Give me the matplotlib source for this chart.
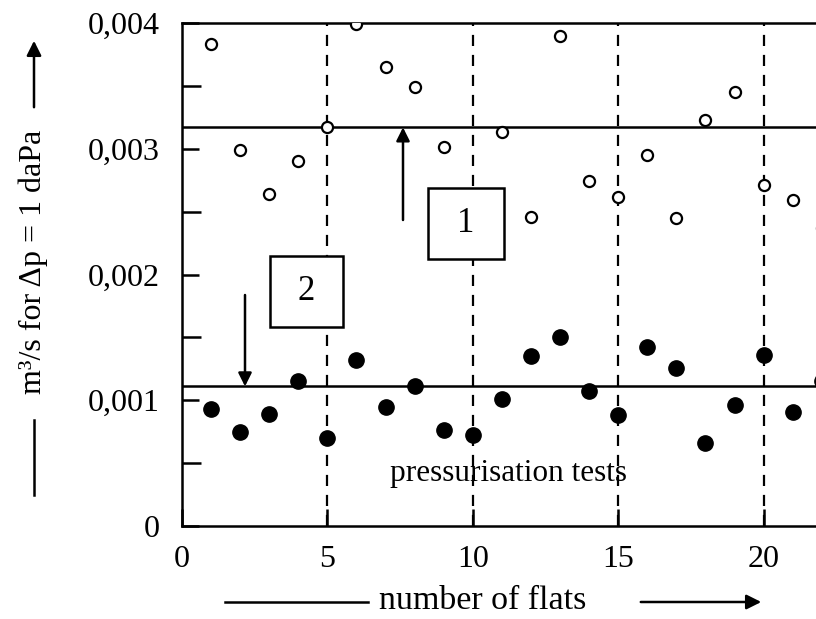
import matplotlib
matplotlib.use("Agg")
import matplotlib.pyplot as plt
from matplotlib.patches import Rectangle, FancyArrowPatch
from matplotlib.lines import Line2D

plt.rcParams['font.family'] = ['Liberation Serif', 'DejaVu Serif']

# Data
flats = list(range(1, 23))
open_vals = [0.00383, 0.00299, 0.00264, 0.00290, 0.00317, 0.00399, 0.00365, 0.00349,
             0.00301, None, 0.00313, 0.00246, 0.00390, 0.00274, 0.00262, 0.00295,
             0.00245, 0.00323, 0.00345, 0.00271, 0.00259, 0.00237]
filled_vals = [0.00093, 0.00075, 0.00089, 0.00115, 0.00070, 0.00132, 0.00095, 0.00111,
               0.00076, 0.00072, 0.00101, 0.00135, 0.00150, 0.00107, 0.00088, 0.00142,
               0.00126, 0.00066, 0.00096, 0.00136, 0.00091, 0.00115]
level_1 = 0.00317
level_2 = 0.00111
vlines_x = [5, 10, 15, 20]
xticks = [0, 5, 10, 15, 20]
yticks = [0, 0.001, 0.002, 0.003, 0.004]
ytick_labels = ["0", "0,001", "0,002", "0,003", "0,004"]
yminor = [0.0005, 0.0015, 0.0025, 0.0035]

W, H = 816, 619
fig = plt.figure(figsize=(W / 100, H / 100), dpi=100)
ax = fig.add_axes([182 / W, (H - 526) / H, (W - 182) / W + 0.01, (526 - 23) / H])
ax.set_xlim(0, 21.8 * (1 + 0.01 * W / (W - 182)))
ax.set_ylim(0, 0.004)

ax.spines['right'].set_visible(False)
for s in ['left', 'bottom', 'top']:
    ax.spines[s].set_linewidth(1.8)

for xv in vlines_x:
    ax.axvline(xv, color='black', ls=(0, (5, 4)), lw=1.6, zorder=1)
ax.axhline(level_1, color='black', lw=1.8, zorder=2)
ax.axhline(level_2, color='black', lw=1.8, zorder=2)

ox = [f for f, v in zip(flats, open_vals) if v is not None]
oy = [v for v in open_vals if v is not None]
ax.plot(ox, oy, ls='none', marker='o', ms=8, mfc='white', mec='black', mew=1.6, zorder=4)
ax.plot(flats, filled_vals, ls='none', marker='o', ms=11, mfc='black', mec='black', zorder=4)

ax.set_xticks(xticks)
ax.set_xticklabels([str(t) for t in xticks], fontsize=23)
ax.set_yticks(yticks)
ax.set_yticklabels(ytick_labels, fontsize=23)
ax.set_yticks(yminor, minor=True)
ax.tick_params(axis='both', which='both', direction='in', width=1.8, top=False, right=False)
ax.tick_params(axis='y', which='major', length=12, pad=16)
ax.tick_params(axis='y', which='minor', length=14)
ax.tick_params(axis='x', which='major', length=12, pad=14)

tr = ax.transData.inverted()
def px2data(x, y):
    return tr.transform((x, H - y))

b1a = px2data(428, 259); b1b = px2data(504, 188)
ax.add_patch(Rectangle(b1a, b1b[0] - b1a[0], b1b[1] - b1a[1], fc='white', ec='black', lw=1.8, zorder=5))
ax.text((b1a[0] + b1b[0]) / 2, (b1a[1] + b1b[1]) / 2, "1", ha='center', va='center', fontsize=25, zorder=6)
b2a = px2data(270, 327); b2b = px2data(343, 256)
ax.add_patch(Rectangle(b2a, b2b[0] - b2a[0], b2b[1] - b2a[1], fc='white', ec='black', lw=1.8, zorder=5))
ax.text((b2a[0] + b2b[0]) / 2, (b2a[1] + b2b[1]) / 2, "2", ha='center', va='center', fontsize=25, zorder=6)

a1s = px2data(403, 220)
ax.annotate("", xy=(a1s[0], level_1), xytext=a1s,
            arrowprops=dict(arrowstyle='-|>', color='black', lw=1.8, mutation_scale=20, shrinkA=0, shrinkB=0), zorder=6)
a2s = px2data(245, 295)
ax.annotate("", xy=(a2s[0], level_2), xytext=a2s,
            arrowprops=dict(arrowstyle='-|>', color='black', lw=1.8, mutation_scale=20, shrinkA=0, shrinkB=0), zorder=6)

tp = px2data(508, 473)
ax.text(tp[0], tp[1], "pressurisation tests", ha='center', va='center', fontsize=22.5, zorder=6)

fig.text(483 / W, 18 / H, "number of flats", ha='center', va='center', fontsize=24.5)
fig.add_artist(Line2D([225 / W, 368 / W], [17 / H, 17 / H], color='black', lw=1.8, transform=fig.transFigure))
fig.add_artist(FancyArrowPatch((638, 17), (764, 17), arrowstyle='-|>', mutation_scale=22,
                               color='black', lw=1.8, transform=None))
fig.text(33 / W, (H - 262) / H, "m³/s for Δp = 1 daPa", rotation=90, ha='center', va='center', fontsize=23)
fig.add_artist(FancyArrowPatch((34, H - 110), (34, H - 38), arrowstyle='-|>', mutation_scale=22,
                               color='black', lw=1.8, transform=None))
fig.add_artist(Line2D([34 / W, 34 / W], [(H - 420) / H, (H - 495) / H], color='black', lw=1.8, transform=fig.transFigure))

fig.savefig("out.png", dpi=100)
